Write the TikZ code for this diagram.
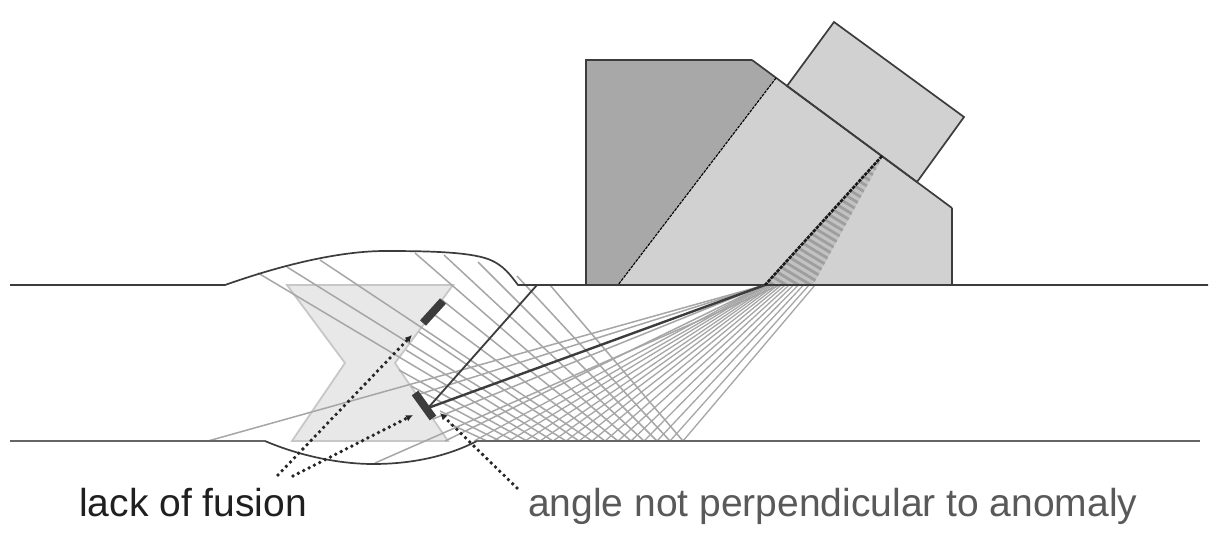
\documentclass[tikz,border=0pt]{standalone}
\usepackage{fontspec}
\setmainfont{Liberation Sans}
\usetikzlibrary{arrows.meta}
\definecolor{ray}{HTML}{A6A6A6}
\definecolor{ink}{HTML}{3C3C3C}
\tikzset{
  rayline/.style={draw=ray,line width=1.5pt},
  outline/.style={draw=ink,line width=1.7pt},
  anomaly/.style={draw=ink,line width=8pt,line cap=butt,line join=round},
  dotline/.style={draw=black!85,line width=3.8pt,line cap=round,dash pattern=on 0pt off 6pt,
     -{Latex[length=7pt,width=7pt]}},
  label/.style={inner sep=0pt,anchor=base west,font=\fontsize{39}{41}\selectfont},
}
\begin{document}
\begin{tikzpicture}[x=1pt,y=-1pt]
\useasboundingbox (0,0) rectangle (1214,536);
\fill[white] (0,0) rectangle (1214,536);
% wedge
\path[fill=black!34] (586,285) -- (586,60) -- (752,60) -- (776,78) -- (618,285) -- cycle;
\path[fill=black!18] (776,78) -- (882,156) -- (952,208) -- (952,285) -- (618,285) -- cycle;
\draw[outline] (586,285) -- (586,60) -- (752,60);
\draw[outline] (952,208) -- (952,285);
\path[fill=black!18,outline] (787,86) -- (834,22) -- (964,117) -- (917,182) -- cycle;
\draw[outline] (752,60) -- (952,208);
\draw[draw=black,line width=1.1pt,dash pattern=on 3pt off 1pt] (776,78) -- (618,285);
% hatch in wedge
\begin{scope}
\clip (882,158) -- (765,285) -- (813,285) -- cycle;
\fill[black!24] (882,158) -- (765,285) -- (813,285) -- cycle;
\foreach \k in {-11,...,18} \draw[black!38,line width=2.8pt] (760,{158+7.4*\k}) -- (900,{158+7.4*\k+85});
\end{scope}
% weld
\path[fill=black!9,draw=black!22,line width=1.8pt] (287,285) -- (453,285) -- (395,363) -- (448,441) -- (292,441) -- (345,363) -- cycle;
% incident rays
\foreach \b in {683,670,657,644,631,618,605,592,579,566,553,540,525,509,493,474}
  \pgfmathsetmacro{\s}{765+50*((\b-470)/213)^2}
  \draw[rayline,line width=1.3pt] (\s,285) -- (\b,441);
% reflected rays
\foreach \b/\xe/\ye in {683/550/285,670/517/276,657/478/262,644/444/255,631/415/253,618/442/300,605/432/313,592/320/260,579/419/332,566/287/267,553/406/350,540/258/273,527/399/370,514/411/386,500/440/411,487/450/424}
  \draw[rayline] (\b,441) -- (\xe,\ye);
% rays to the anomaly and through the weld
\coordinate (f) at (765,285);
\draw[rayline] (f) -- (208,441);
\draw[rayline] (f) -- (420,394);
\draw[rayline] (f) -- (433,419);
\draw[rayline] (780,285) -- (375,463);
\draw[rayline] (f) -- (445,441);
% plate and weld cap
\draw[outline] (10,285) -- (225,285) .. controls (290,262) and (345,251) .. (385,251)
  .. controls (430,251) and (468,252) .. (488,259) .. controls (504,265) and (511,276) .. (518,285) -- (1208,285);
\draw[draw=black!60,line width=2.2pt] (10,441) -- (265,441);
\draw[outline] (265,441) .. controls (300,456) and (340,464) .. (373,464)
  .. controls (415,464) and (450,455) .. (477,441);
\draw[draw=black!60,line width=2.2pt] (477,441) -- (1200,441);
\draw[draw=ink,line width=2.4pt] (f) -- (428,408);
% anomalies
\draw[anomaly] (423,323) -- (443,301);
\draw[anomaly] (415,393) -- (433,418);
% sound paths
\draw[draw=ink,line width=1.8pt] (537,285) -- (428,408);
\draw[draw=black!90,line width=2.6pt,dash pattern=on 3.5pt off 1pt] (882,156) -- (765,285);
% pointers
\draw[dotline] (278,475) -- (412,335);
\draw[dotline] (293,476) -- (413,415);
\draw[dotline] (517,488) -- (440,413);
% labels
\node[label,text=black!88] (lof) at (79,516) {lack of fusion};
\node[label,text=black!65] (ang) at (528,516) {angle not perpendicular to anomaly};
\end{tikzpicture}
\end{document}
